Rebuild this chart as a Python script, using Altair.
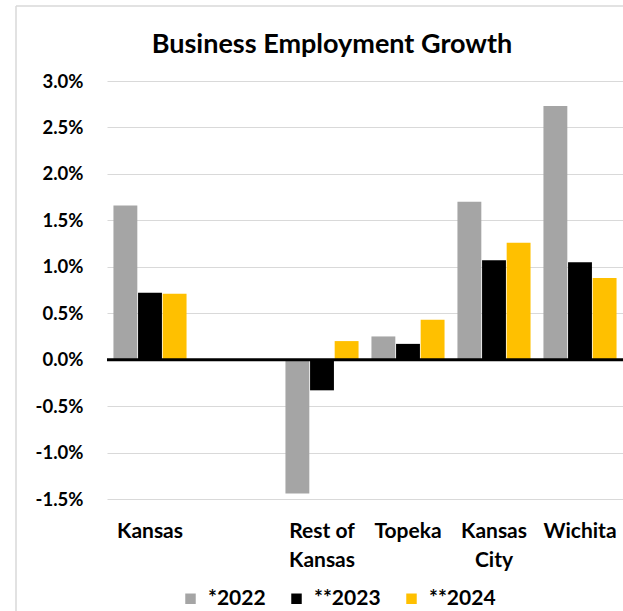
import altair as alt
import pandas as pd

# Business employment growth by region, in percent
regions = ["Kansas", "Rest of Kansas", "Topeka", "Kansas City", "Wichita"]
axis_order = ["Kansas", " ", "Rest of Kansas", "Topeka", "Kansas City", "Wichita"]
series = ["*2022", "**2023", "**2024"]
series_colors = ["#a5a5a5", "#000000", "#ffc000"]
growth_2022 = [1.66, -1.44, 0.25, 1.70, 2.73]
growth_2023 = [0.72, -0.33, 0.17, 1.07, 1.05]
growth_2024 = [0.71, 0.20, 0.43, 1.26, 0.88]
y_ticks = [-1.5, -1.0, -0.5, 0.0, 0.5, 1.0, 1.5, 2.0, 2.5, 3.0]
chart_title = "Business Employment Growth"

rows = []
for name, vals in zip(series, [growth_2022, growth_2023, growth_2024]):
    for region, v in zip(regions, vals):
        rows.append({"region": region, "series": name, "growth": v})
df = pd.DataFrame(rows)

FONT = "Lato"
PLOT_W, PLOT_H = 516, 418
LEFT, TOP = 107, 81

bars = alt.Chart(df).mark_bar().encode(
    x=alt.X(
        "region:N",
        scale=alt.Scale(domain=axis_order, paddingInner=0.15, paddingOuter=0.075),
        axis=alt.Axis(
            title=None, domain=False, ticks=False, grid=False, labelAngle=0,
            labelPadding=21, labelFontSize=21, labelFont=FONT, labelFontWeight="bold",
            labelColor="#000000", labelBaseline="top", labelLineHeight=29,
            labelExpr="datum.value == 'Rest of Kansas' ? ['Rest of', 'Kansas'] : "
                      "datum.value == 'Kansas City' ? ['Kansas', 'City'] : datum.value",
        ),
    ),
    xOffset=alt.XOffset("series:N", scale=alt.Scale(domain=series, paddingInner=0.03)),
    y=alt.Y(
        "growth:Q", stack=None,
        scale=alt.Scale(domain=[-1.5, 3.0], nice=False, zero=False),
        axis=alt.Axis(
            title=None, domain=False, ticks=False, values=y_ticks,
            labelExpr="(datum.value < 0 ? '-' : '') + format(abs(datum.value), '.1f') + '%'",
            labelPadding=24, labelFontSize=18.5, labelFont=FONT, labelFontWeight="bold",
            labelColor="#000000", gridColor="#d9d9d9", gridWidth=1.2,
        ),
    ),
    color=alt.Color(
        "series:N",
        scale=alt.Scale(domain=series, range=series_colors),
        legend=alt.Legend(
            title=None, orient="none", direction="horizontal",
            legendX=73, legendY=507, symbolType="square", symbolSize=110,
            symbolStrokeWidth=0, labelFontSize=21, labelFont=FONT,
            labelFontWeight="bold", labelColor="#000000", columnPadding=20,
            labelOffset=7,
        ),
    ),
)

zero_line = alt.Chart(pd.DataFrame({"y": [0.0]})).mark_rule(
    color="#000000", strokeWidth=3
).encode(y="y:Q")

frame = pd.DataFrame({"k": [0]})
frame_left = alt.Chart(frame).mark_rule(color="#d9d9d9", strokeWidth=1.5).encode(
    x=alt.value(16 - LEFT), y=alt.value(6 - TOP), y2=alt.value(611 - TOP)
)
frame_top = alt.Chart(frame).mark_rule(color="#d9d9d9", strokeWidth=1.5).encode(
    x=alt.value(16 - LEFT), x2=alt.value(623 - LEFT), y=alt.value(6 - TOP)
)

title = alt.Chart(pd.DataFrame({"t": [chart_title]})).mark_text(
    font=FONT, fontSize=27, fontWeight="bold", color="#000000",
    align="center", baseline="alphabetic",
).encode(text="t:N", x=alt.value(332 - LEFT), y=alt.value(53 - TOP))

chart = alt.layer(frame_left, frame_top, bars, zero_line, title).properties(
    width=PLOT_W,
    height=PLOT_H,
    autosize=alt.AutoSizeParams(type="none"),
    padding={"left": LEFT, "top": TOP, "right": 0, "bottom": 611 - TOP - PLOT_H},
    background="#ffffff",
).configure_view(stroke=None)

chart.save("out.html", embed_options={"renderer": "svg", "actions": False})
